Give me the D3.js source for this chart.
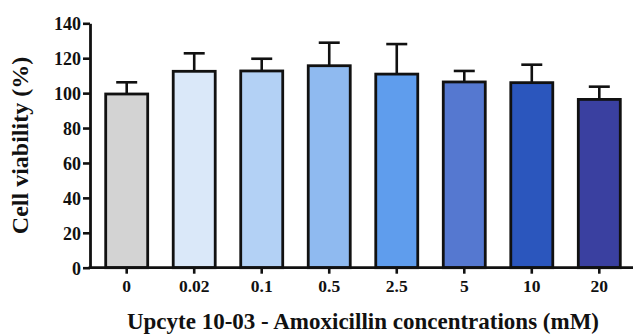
<!DOCTYPE html>
<html>
<head>
<meta charset="utf-8">
<script src="https://cdn.jsdelivr.net/npm/d3@7"></script>
<style>
  html, body { margin: 0; padding: 0; background: #fff; }
  svg { display: block; }
  text { font-family: "Liberation Serif", "Times New Roman", serif; font-weight: bold; fill: #111; }
</style>
</head>
<body>
<svg id="chart" width="633" height="336"></svg>
<script>
// Cell viability of Upcyte 10-03 cells across amoxicillin concentrations
const categories = ["0", "0.02", "0.1", "0.5", "2.5", "5", "10", "20"];
const means      = [99.5, 112.5, 112.7, 115.7, 110.9, 106.4, 106.0, 96.4];
const errors     = [6.7, 10.3, 7.0, 13.2, 17.2, 6.3, 10.3, 7.3];
const colors     = ["#d3d3d3", "#dae8f9", "#b3d1f5", "#8fbaf0", "#5f9ded", "#5578d0", "#2b56bd", "#3a40a0"];
const yTicks     = [0, 20, 40, 60, 80, 100, 120, 140];

const svg = d3.select("#chart");
const x0 = 90, yBase = 267.7, yTop = 23.3;

const x = d3.scaleBand()
  .domain(categories)
  .range([x0, 636])
  .paddingInner(0.378)
  .paddingOuter(0.2326);

const y = d3.scaleLinear().domain([0, 140]).range([yBase, yTop]);

const data = categories.map((c, i) => ({ c, m: means[i], e: errors[i], col: colors[i] }));

// error bars (upper only), drawn beneath bars
const eb = svg.append("g").attr("stroke", "#111").attr("stroke-width", 2.6);
data.forEach(d => {
  const cx = x(d.c) + x.bandwidth() / 2;
  const capW = x.bandwidth() * 0.5;
  eb.append("line").attr("x1", cx).attr("x2", cx).attr("y1", y(d.m)).attr("y2", y(d.m + d.e));
  eb.append("line").attr("x1", cx - capW / 2).attr("x2", cx + capW / 2)
    .attr("y1", y(d.m + d.e)).attr("y2", y(d.m + d.e));
});

// bars
svg.append("g").selectAll("rect").data(data).join("rect")
  .attr("x", d => x(d.c))
  .attr("width", x.bandwidth())
  .attr("y", d => y(d.m))
  .attr("height", d => y(0) - y(d.m))
  .attr("fill", d => d.col)
  .attr("stroke", "#111")
  .attr("stroke-width", 2.8);

// y axis
const yAxis = svg.append("g")
  .attr("transform", `translate(${x0},0)`)
  .call(d3.axisLeft(y).tickValues(yTicks).tickSize(7).tickPadding(2).tickSizeOuter(0));
yAxis.select(".domain").attr("stroke", "#111").attr("stroke-width", 2.8);
yAxis.selectAll(".tick line").attr("stroke", "#111").attr("stroke-width", 2.6);
yAxis.selectAll(".tick text").attr("font-size", 18).attr("dy", "0.36em")
  .style("font-family", "Liberation Serif").style("font-weight", "bold").attr("fill", "#111");

// x axis
const xAxis = svg.append("g")
  .attr("transform", `translate(0,${yBase})`)
  .call(d3.axisBottom(x).tickSize(6).tickPadding(6).tickSizeOuter(0));
xAxis.select(".domain").attr("stroke", "#111").attr("stroke-width", 2.8)
  .attr("d", `M${x0 - 1.4},0H636`);
xAxis.selectAll(".tick line").attr("stroke", "#111").attr("stroke-width", 2.6);
xAxis.selectAll(".tick text").attr("font-size", 17.5).attr("dy", "0.71em")
  .style("font-family", "Liberation Serif").style("font-weight", "bold").attr("fill", "#111");

// axis titles
svg.append("text")
  .attr("x", 363).attr("y", 329)
  .attr("text-anchor", "middle")
  .attr("font-size", 23)
  .text("Upcyte 10-03 - Amoxicillin concentrations (mM)");

svg.append("text")
  .attr("transform", `translate(28,${(yTop + yBase) / 2}) rotate(-90)`)
  .attr("text-anchor", "middle")
  .attr("font-size", 24)
  .text("Cell viability (%)");
</script>
</body>
</html>
